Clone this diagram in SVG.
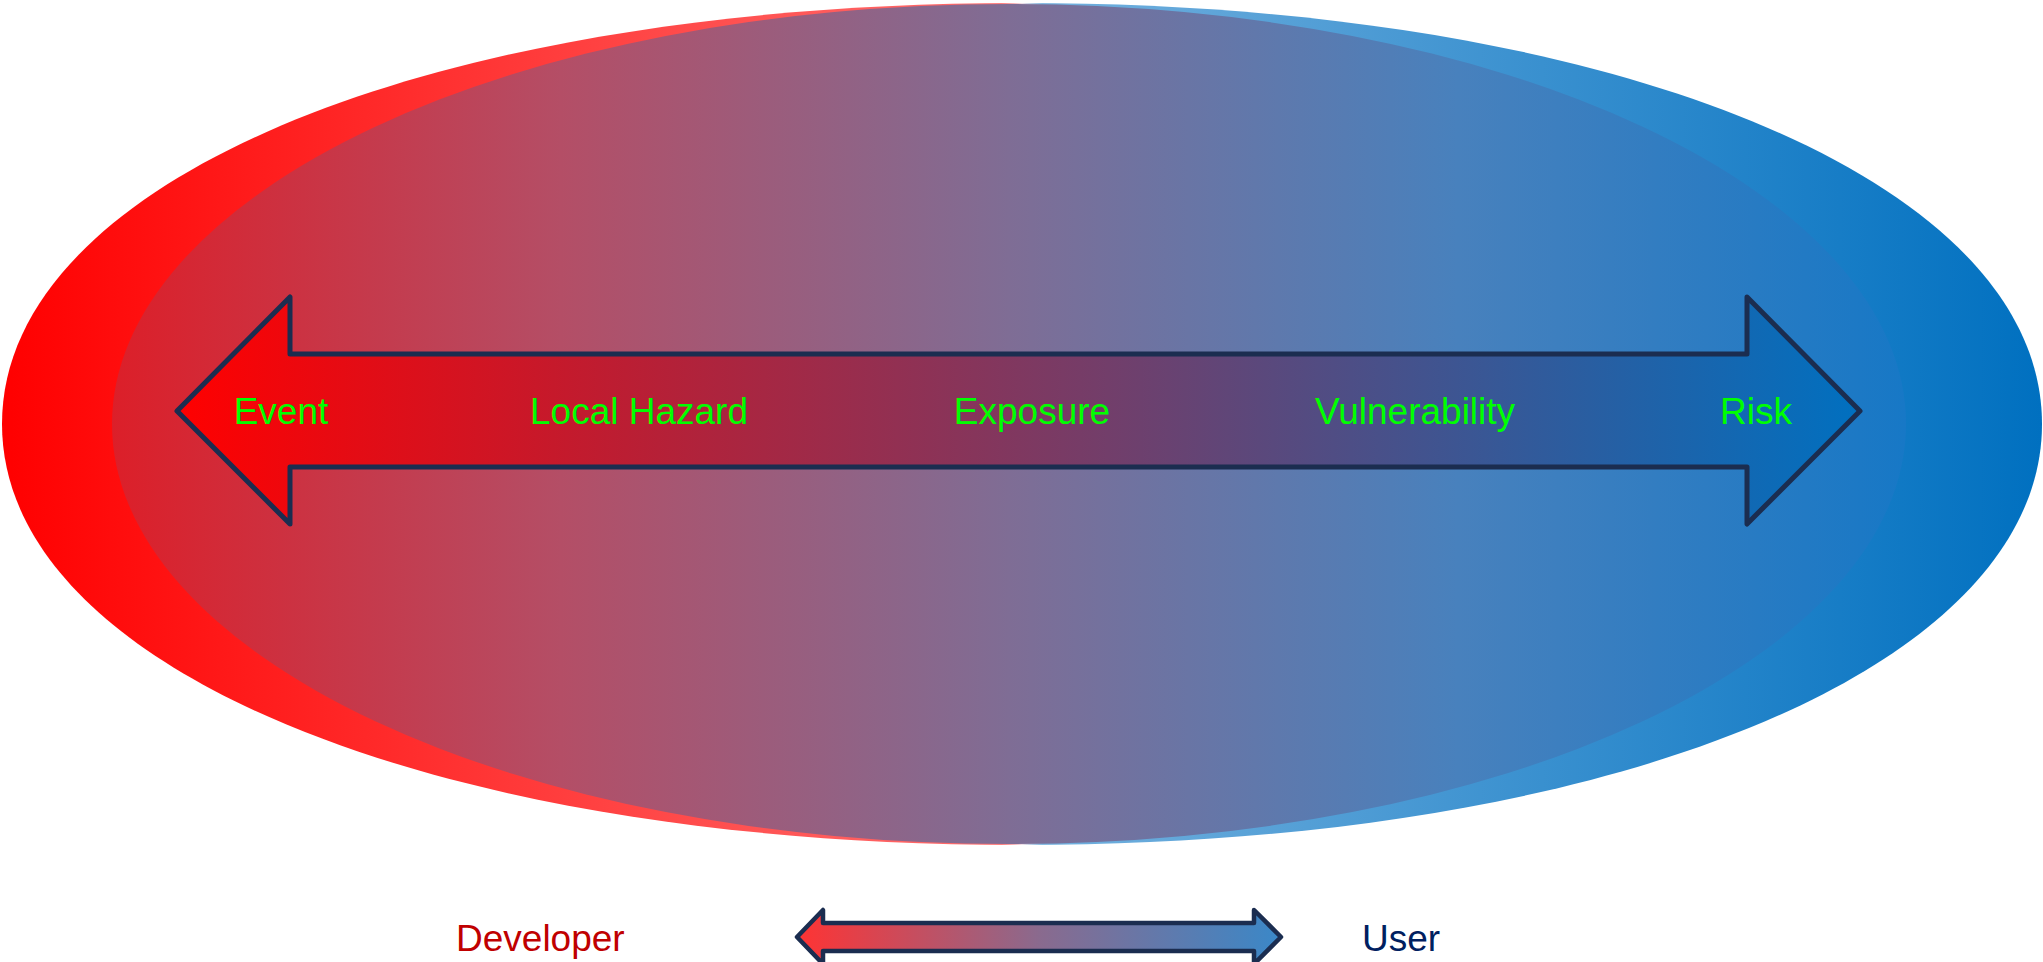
<svg xmlns="http://www.w3.org/2000/svg" width="2043" height="962" viewBox="0 0 2043 962">
  <defs>
    <linearGradient id="gOuter" gradientUnits="userSpaceOnUse" x1="2" y1="0" x2="2042" y2="0">
      <stop offset="0" stop-color="#FF0000"/>
      <stop offset="0.49" stop-color="#FF6E6E"/>
      <stop offset="0.5" stop-color="#F0E0E8"/>
      <stop offset="0.51" stop-color="#72B0DE"/>
      <stop offset="1" stop-color="#0070C0"/>
    </linearGradient>
    <linearGradient id="gInner" gradientUnits="userSpaceOnUse" x1="112" y1="0" x2="1906" y2="0">
      <stop offset="0" stop-color="#DC1F29"/>
      <stop offset="0.25" stop-color="#B44E66"/>
      <stop offset="0.5" stop-color="#7F6D95"/>
      <stop offset="0.75" stop-color="#4881BD"/>
      <stop offset="1" stop-color="#1778C6"/>
    </linearGradient>
    <linearGradient id="gArrow" gradientUnits="userSpaceOnUse" x1="177" y1="0" x2="1860" y2="0">
      <stop offset="0" stop-color="#FF0000"/>
      <stop offset="1" stop-color="#0070C0"/>
    </linearGradient>
    <linearGradient id="gSmall" gradientUnits="userSpaceOnUse" x1="797" y1="0" x2="1281" y2="0">
      <stop offset="0" stop-color="#FF3333"/>
      <stop offset="0.5" stop-color="#8A6A8E"/>
      <stop offset="1" stop-color="#3A88C8"/>
    </linearGradient>
  </defs>
  <style>
    .arrow { stroke: #1B2D50; stroke-linejoin: round; }
    .lbl { font-family: "Liberation Sans", Arial, sans-serif; font-size: 37px; fill: #00FF00; text-anchor: middle; }
    .leg { font-family: "Liberation Sans", Arial, sans-serif; font-size: 37px; }
  </style>
  <g id="outer-ellipse">
    <path fill="url(#gOuter)" d="M 2042,424 C 2042,668.2 1613.6,845 1022,845 C 430.4,845 2,668.2 2,424 C 2,179.8 430.4,3 1022,3 C 1613.6,3 2042,179.8 2042,424 Z"/>
  </g>
  <g id="inner-ellipse">
    <ellipse cx="1009" cy="424" rx="897" ry="420" fill="url(#gInner)"/>
  </g>
  <g id="connectors">
    <polygon id="main-arrow" class="arrow" fill="url(#gArrow)" stroke-width="5"
      points="177,411 290,297 290,354 1747,354 1747,297 1860,411 1747,524 1747,467 290,467 290,524"/>
    <polygon id="legend-arrow" class="arrow" fill="url(#gSmall)" stroke-width="4.5"
      points="797,937 823,910 823,923 1254,923 1254,910 1281,937 1254,964 1254,951 823,951 823,964"/>
  </g>
  <g id="label-event"><text class="lbl" x="281" y="424">Event</text></g>
  <g id="label-local-hazard"><text class="lbl" x="639" y="424">Local Hazard</text></g>
  <g id="label-exposure"><text class="lbl" x="1032" y="424">Exposure</text></g>
  <g id="label-vulnerability"><text class="lbl" x="1415" y="424">Vulnerability</text></g>
  <g id="label-risk"><text class="lbl" x="1756" y="424">Risk</text></g>
  <g id="legend-developer"><text class="leg" x="456" y="951" fill="#C00000">Developer</text></g>
  <g id="legend-user"><text class="leg" x="1362" y="951" fill="#002060">User</text></g>
</svg>
